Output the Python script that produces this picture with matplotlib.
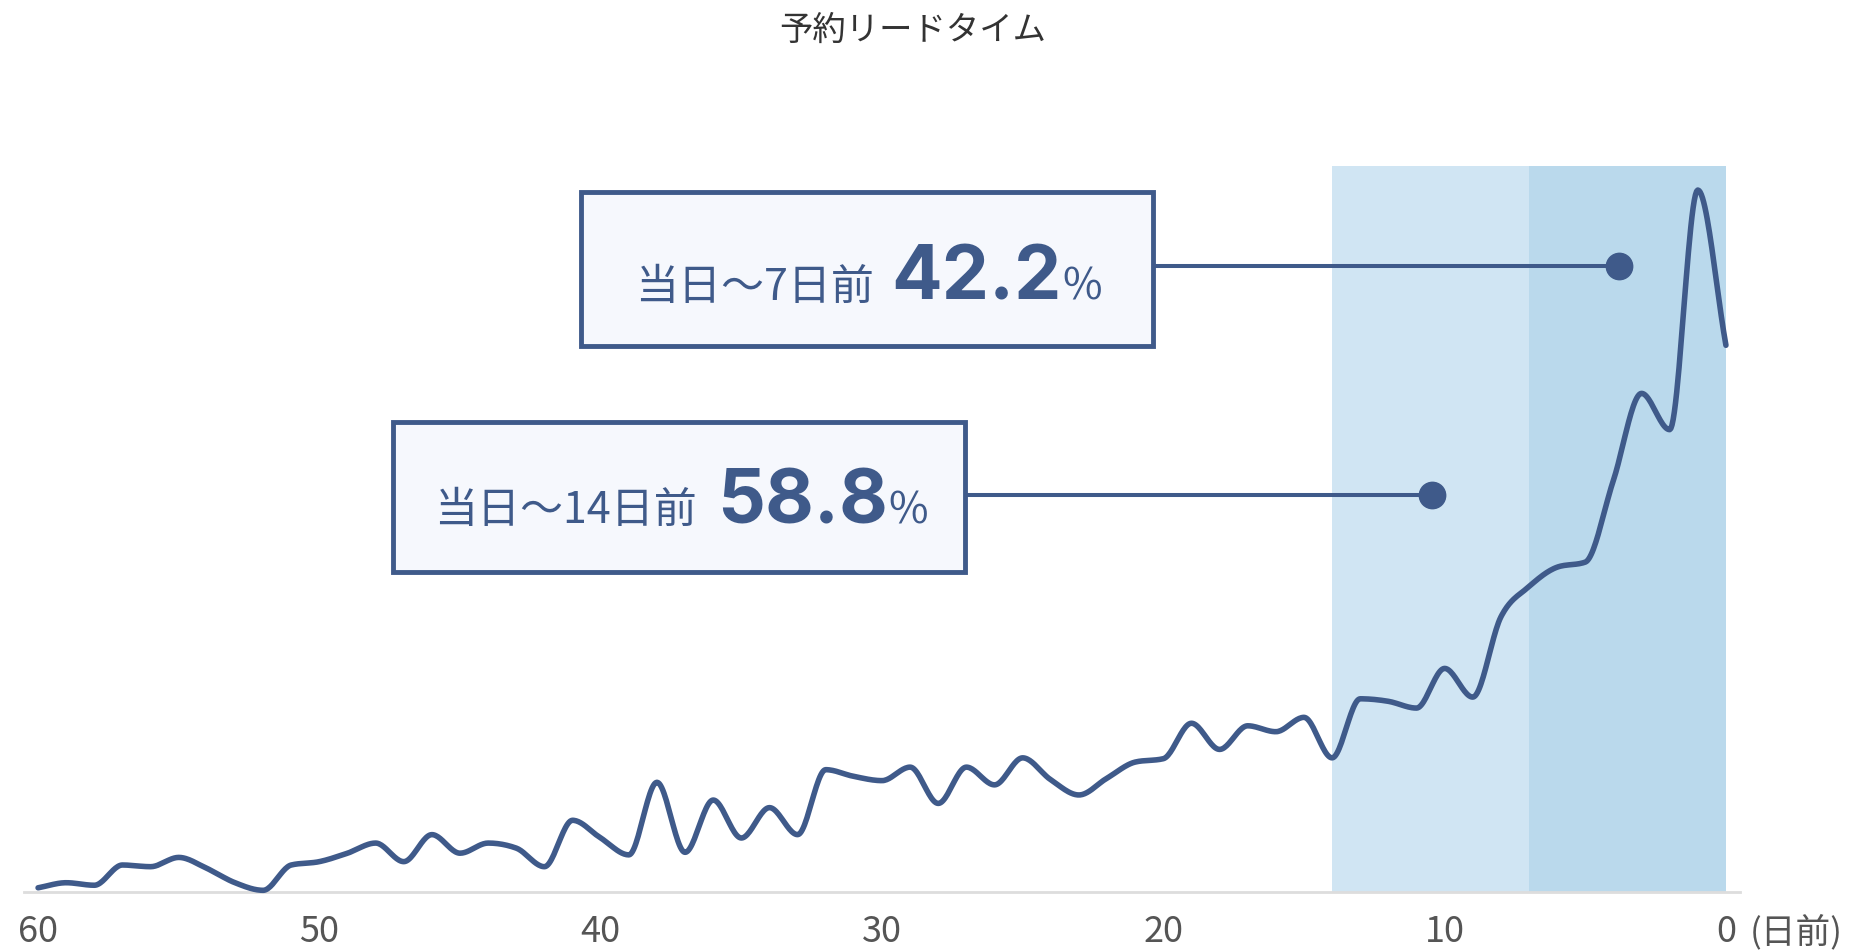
import numpy as np
import matplotlib
matplotlib.use("Agg")
import matplotlib.pyplot as plt
from matplotlib.patches import Rectangle
from matplotlib.transforms import Affine2D, blended_transform_factory

plt.rcParams['font.family'] = ['Noto Sans CJK JP', 'DejaVu Sans']

# ---------------- data ----------------
title = "予約リードタイム"
days = list(range(60, -1, -1))
share = [0.05, 0.11, 0.08, 0.32, 0.30, 0.41, 0.28, 0.11, 0.02, 0.32,
         0.36, 0.46, 0.58, 0.36, 0.68, 0.46, 0.58, 0.52, 0.30, 0.85,
         0.64, 0.44, 1.30, 0.47, 1.09, 0.64, 1.00, 0.68, 1.45, 1.37,
         1.32, 1.48, 1.05, 1.48, 1.27, 1.59, 1.33, 1.15, 1.35, 1.54,
         1.58, 2.00, 1.69, 1.97, 1.90, 2.07, 1.59, 2.29, 2.26, 2.18,
         2.65, 2.31, 3.26, 3.62, 3.85, 3.91, 4.88, 5.91, 5.48, 8.32, 6.48]
tick_days = [60, 50, 40, 30, 20, 10, 0]
tick_labels = ["60", "50", "40", "30", "20", "10", "0"]
unit_label = "(日前)"
band_start = [14, 7]
band_end = [7, 0]
callout_labels = ["当日～7日前", "当日～14日前"]
callout_values = ["42.2", "58.8"]
callout_unit = "%"
callout_dot_day = [3.8, 10.45]

# ---------------- style ----------------
W, H = 1860, 950
LINE = "#3F5A8A"
BAND_COLORS = ["#D0E5F3", "#BAD9EC"]
BOX_FILL = "#F6F8FD"
AX_L, AX_R, AX_T, AX_B = 24, 1740, 166, 892
YMAX = 8.605


def monotone_cubic(x, y, n=24):
    x = np.asarray(x, float)
    y = np.asarray(y, float)
    h = np.diff(x)
    s = np.diff(y) / h
    m = np.zeros_like(y)
    m[0], m[-1] = s[0], s[-1]
    for i in range(1, len(x) - 1):
        s0, s1 = s[i - 1], s[i]
        p = (s0 * h[i] + s1 * h[i - 1]) / (h[i - 1] + h[i])
        m[i] = (np.sign(s0) + np.sign(s1)) * min(abs(s0), abs(s1), 0.5 * abs(p))
    xs, ys = [], []
    for i in range(len(x) - 1):
        t = np.linspace(0, 1, n, endpoint=False)
        h00 = 2 * t**3 - 3 * t**2 + 1
        h10 = t**3 - 2 * t**2 + t
        h01 = -2 * t**3 + 3 * t**2
        h11 = t**3 - t**2
        xs.append(x[i] + t * h[i])
        ys.append(h00 * y[i] + h10 * h[i] * m[i] + h01 * y[i + 1] + h11 * h[i] * m[i + 1])
    xs.append([x[-1]])
    ys.append([y[-1]])
    return np.concatenate(xs), np.concatenate(ys)


fig = plt.figure(figsize=(W / 100, H / 100), dpi=100)
fig.patch.set_facecolor("white")
pix = Affine2D().scale(1, -1).translate(0, H)  # pixel coords, origin top-left

ax = fig.add_axes([AX_L / W, (H - AX_B) / H, (AX_R - AX_L) / W, (AX_B - AX_T) / H])
ax.set_xlim(60.5, -0.5)
ax.set_ylim(0, YMAX)
for side in ["top", "left", "right"]:
    ax.spines[side].set_visible(False)
ax.spines["bottom"].set_color("#DDDDDD")
ax.spines["bottom"].set_linewidth(2)
ax.set_yticks([])
ax.set_xticks([])

for a, b, c in zip(band_start, band_end, BAND_COLORS):
    ax.axvspan(b, a, color=c, lw=0, zorder=0)

x_inc = days[::-1]
y_inc = share[::-1]
xs, ys = monotone_cubic(x_inc, y_inc)
ax.plot(xs, ys, color=LINE, lw=4.0, solid_capstyle="round", zorder=3, clip_on=False)

# x tick labels
bt = blended_transform_factory(ax.transData, pix)
for d, lab in zip(tick_days, tick_labels):
    ax.text(d, 942, lab, transform=bt, ha="center", va="baseline",
            fontsize=26, color="#555555", clip_on=False)
fig.text(1750, 942, unit_label, transform=pix, ha="left", va="baseline",
         fontsize=25, color="#555555")

# title
fig.text(913, 40, title, transform=pix, ha="center", va="baseline",
         fontsize=24, color="#333333")

# callouts
boxes = [(581, 192, 572, 154), (393, 422, 572, 150)]
conn_y = [266, 495]
baselines = [300, 523]
label_x = [635, 434]
value_x = [891, 717]

renderer = fig.canvas.get_renderer()
for i in range(2):
    bx, by, bw, bh = boxes[i]
    dot_px = ax.transData.transform((callout_dot_day[i], 0))[0]
    fig.add_artist(plt.Line2D([bx + bw, dot_px], [conn_y[i], conn_y[i]],
                              transform=pix, color=LINE, lw=2.9, zorder=4))
    fig.add_artist(plt.Line2D([dot_px], [conn_y[i]], transform=pix, marker="o",
                              markersize=19, color=LINE, zorder=5))
    fig.add_artist(Rectangle((bx, by), bw, bh, transform=pix, facecolor=BOX_FILL,
                             edgecolor=LINE, lw=3.5, zorder=6))
    fig.text(label_x[i], baselines[i], callout_labels[i], transform=pix, ha="left",
             va="baseline", fontsize=31, color=LINE, zorder=7)
    tv = fig.text(value_x[i], baselines[i], callout_values[i], transform=pix, ha="left",
                  va="baseline", fontsize=54, fontweight="bold", color=LINE, zorder=7,
                  family=["Inter", "Noto Sans", "DejaVu Sans"])
    ext = tv.get_window_extent(renderer)
    fig.text(ext.x1 + 1, baselines[i], callout_unit, transform=pix, ha="left",
             va="baseline", fontsize=31, color=LINE, zorder=7)

fig.savefig("out.png", dpi=100)
